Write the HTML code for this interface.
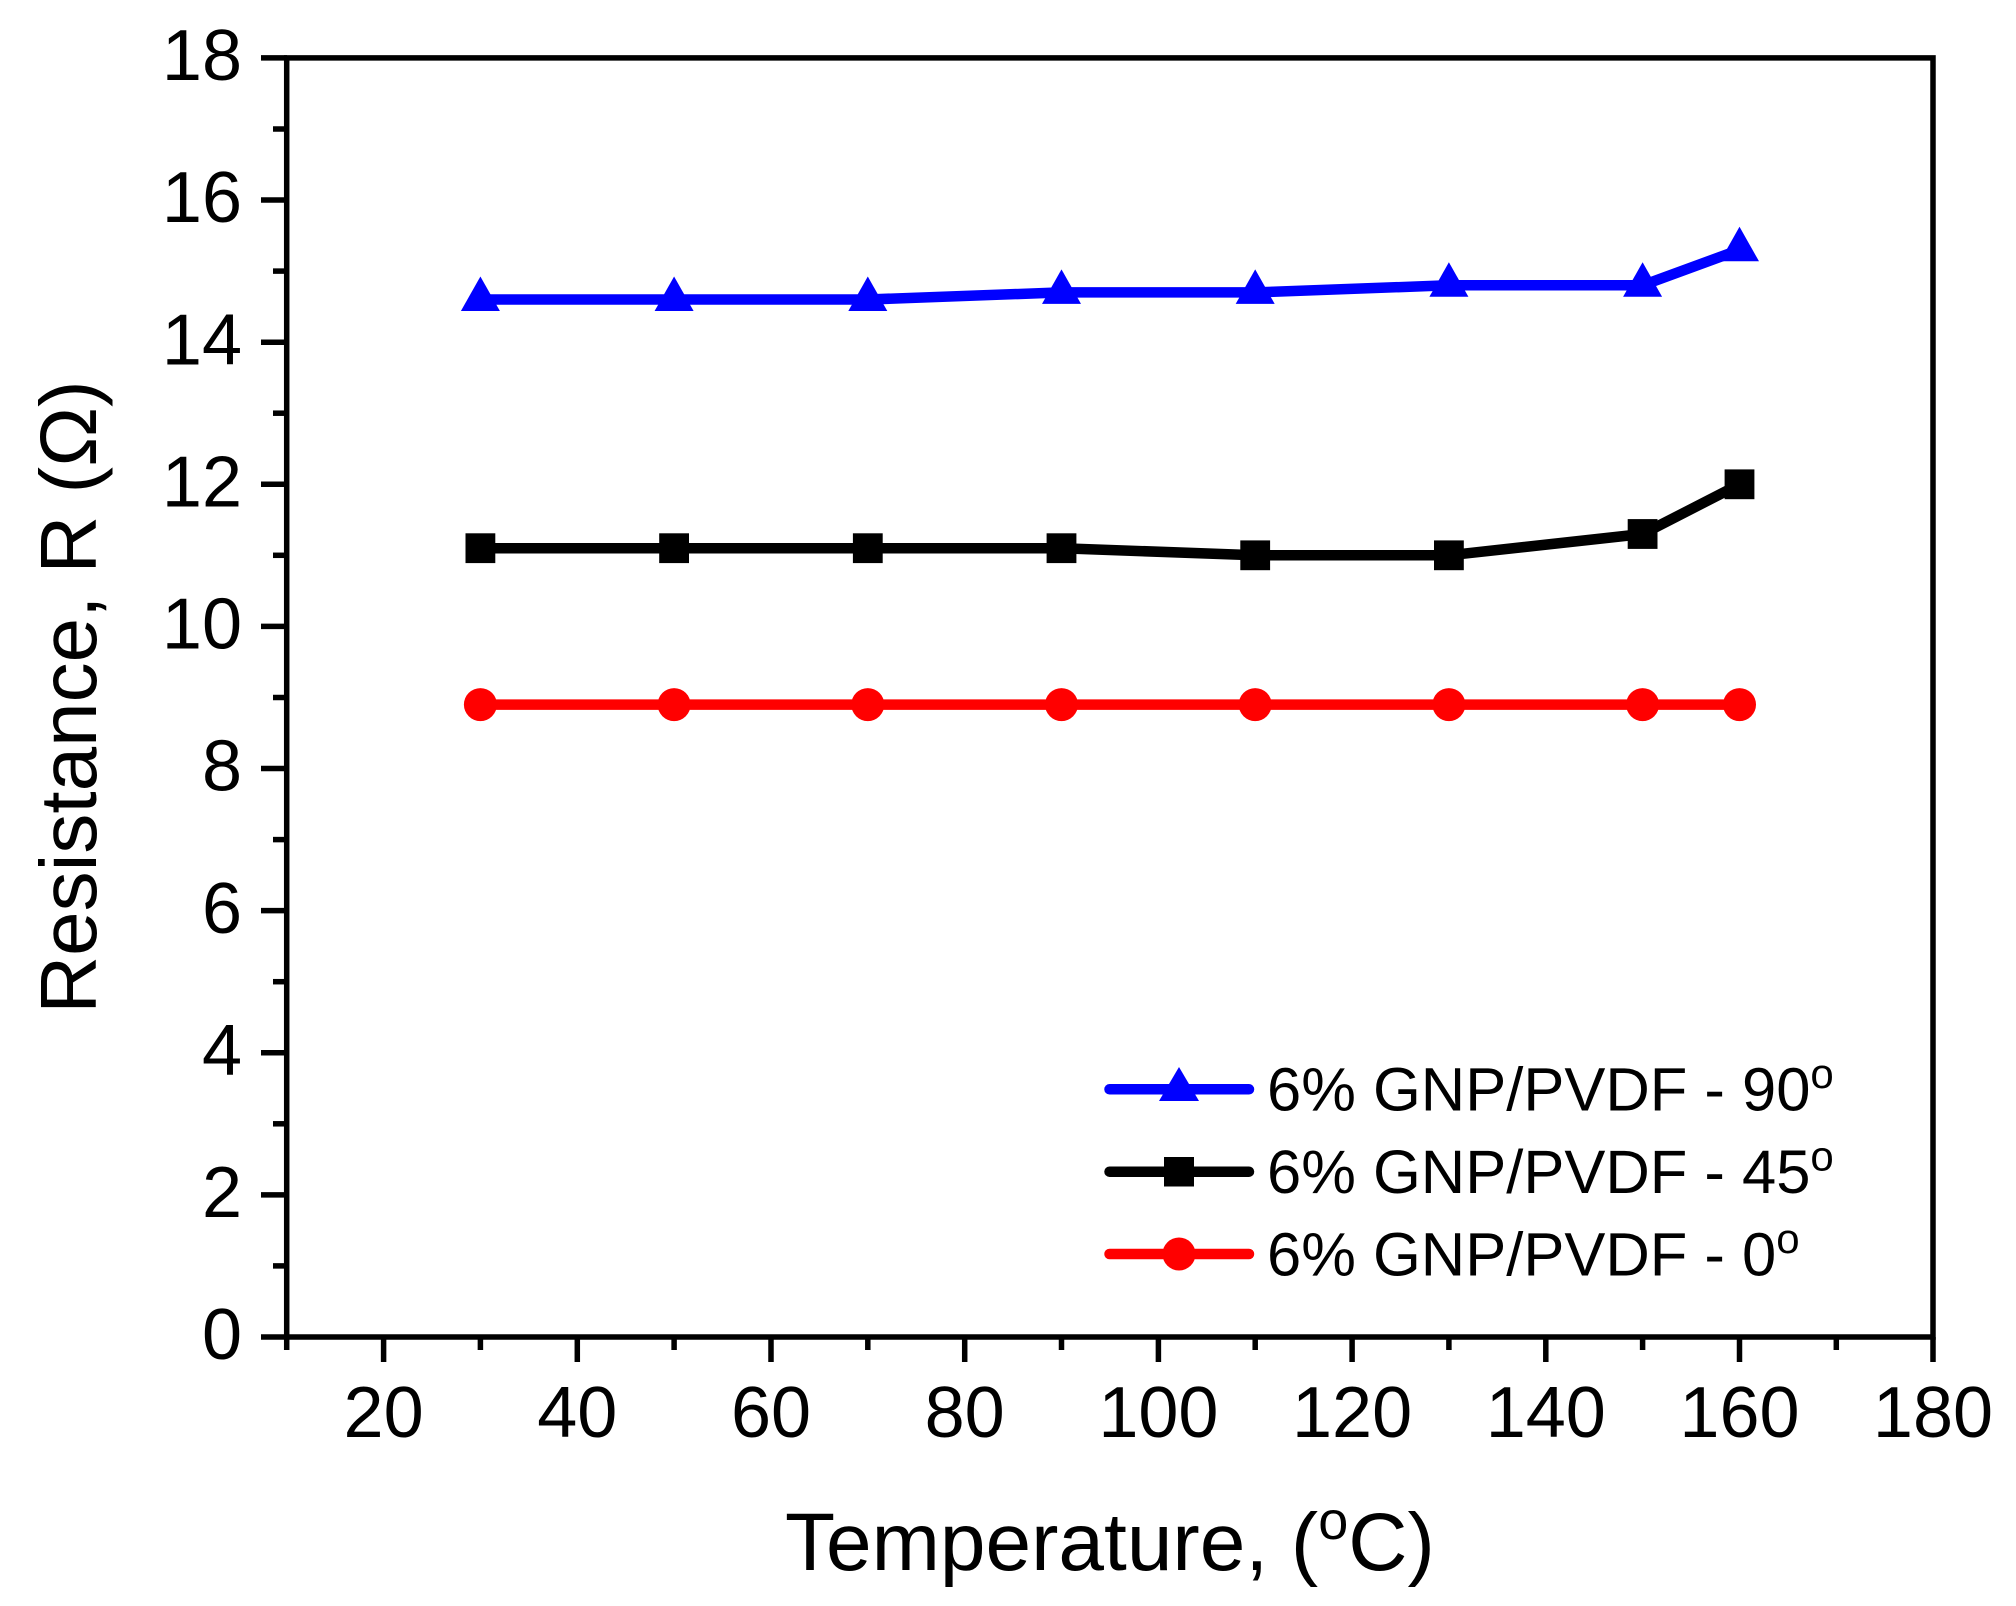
<!DOCTYPE html>
<html>
<head>
<meta charset="utf-8">
<style>
html,body{margin:0;padding:0;background:#fff;}
svg{display:block;}
text{font-family:"Liberation Sans",Arial,sans-serif;fill:#000;}
</style>
</head>
<body>
<svg width="2016" height="1606" viewBox="0 0 2016 1606" xmlns="http://www.w3.org/2000/svg">
<rect x="0" y="0" width="2016" height="1606" fill="#fff"/>

<!-- frame -->
<rect x="286.7" y="57.9" width="1646.3" height="1279.1" fill="none" stroke="#000" stroke-width="5.5" stroke-linejoin="miter"/>

<!-- y ticks -->
<g stroke="#000" stroke-width="5.5">
<line x1="261" y1="1337" x2="287" y2="1337"/>
<line x1="273" y1="1265.9" x2="287" y2="1265.9"/>
<line x1="261" y1="1194.9" x2="287" y2="1194.9"/>
<line x1="273" y1="1123.8" x2="287" y2="1123.8"/>
<line x1="261" y1="1052.8" x2="287" y2="1052.8"/>
<line x1="273" y1="981.7" x2="287" y2="981.7"/>
<line x1="261" y1="910.6" x2="287" y2="910.6"/>
<line x1="273" y1="839.6" x2="287" y2="839.6"/>
<line x1="261" y1="768.5" x2="287" y2="768.5"/>
<line x1="273" y1="697.5" x2="287" y2="697.5"/>
<line x1="261" y1="626.4" x2="287" y2="626.4"/>
<line x1="273" y1="555.3" x2="287" y2="555.3"/>
<line x1="261" y1="484.3" x2="287" y2="484.3"/>
<line x1="273" y1="413.2" x2="287" y2="413.2"/>
<line x1="261" y1="342.2" x2="287" y2="342.2"/>
<line x1="273" y1="271.1" x2="287" y2="271.1"/>
<line x1="261" y1="200.0" x2="287" y2="200.0"/>
<line x1="273" y1="129.0" x2="287" y2="129.0"/>
<line x1="261" y1="57.9" x2="287" y2="57.9"/>
</g>

<!-- x ticks -->
<g stroke="#000" stroke-width="5.5">
<line x1="286.7" y1="1337" x2="286.7" y2="1350"/>
<line x1="383.6" y1="1337" x2="383.6" y2="1362"/>
<line x1="480.4" y1="1337" x2="480.4" y2="1350"/>
<line x1="577.3" y1="1337" x2="577.3" y2="1362"/>
<line x1="674.1" y1="1337" x2="674.1" y2="1350"/>
<line x1="771.0" y1="1337" x2="771.0" y2="1362"/>
<line x1="867.8" y1="1337" x2="867.8" y2="1350"/>
<line x1="964.7" y1="1337" x2="964.7" y2="1362"/>
<line x1="1061.5" y1="1337" x2="1061.5" y2="1350"/>
<line x1="1158.4" y1="1337" x2="1158.4" y2="1362"/>
<line x1="1255.2" y1="1337" x2="1255.2" y2="1350"/>
<line x1="1352.1" y1="1337" x2="1352.1" y2="1362"/>
<line x1="1448.9" y1="1337" x2="1448.9" y2="1350"/>
<line x1="1545.8" y1="1337" x2="1545.8" y2="1362"/>
<line x1="1642.6" y1="1337" x2="1642.6" y2="1350"/>
<line x1="1739.5" y1="1337" x2="1739.5" y2="1362"/>
<line x1="1836.3" y1="1337" x2="1836.3" y2="1350"/>
<line x1="1933" y1="1337" x2="1933" y2="1362"/>
</g>

<!-- y tick labels -->
<g font-size="72" text-anchor="end">
<text x="242" y="1359">0</text>
<text x="242" y="1217">2</text>
<text x="242" y="1075">4</text>
<text x="242" y="933">6</text>
<text x="242" y="790.5">8</text>
<text x="242" y="648.5">10</text>
<text x="242" y="506.5">12</text>
<text x="242" y="364.5">14</text>
<text x="242" y="222">16</text>
<text x="242" y="80">18</text>
</g>

<!-- x tick labels -->
<g font-size="72" text-anchor="middle">
<text x="383.6" y="1437">20</text>
<text x="577.3" y="1437">40</text>
<text x="771.0" y="1437">60</text>
<text x="964.7" y="1437">80</text>
<text x="1158.4" y="1437">100</text>
<text x="1352.1" y="1437">120</text>
<text x="1545.8" y="1437">140</text>
<text x="1739.5" y="1437">160</text>
<text x="1933" y="1437">180</text>
</g>

<!-- axis titles -->
<text x="785" y="1570" font-size="82">Temperature, (<tspan font-size="54" dy="-31">o</tspan><tspan dy="31">C)</tspan></text>
<text transform="translate(96,697) rotate(-90)" font-size="80" text-anchor="middle">Resistance, R (Ω)</text>

<!-- red series 0° -->
<polyline fill="none" stroke="#FF0000" stroke-width="10.5" stroke-linejoin="round"
 points="480.4,704.6 674.1,704.6 867.8,704.6 1061.5,704.6 1255.2,704.6 1448.9,704.6 1642.6,704.6 1739.5,704.6"/>
<g fill="#FF0000">
<circle cx="480.4" cy="704.6" r="16.5"/>
<circle cx="674.1" cy="704.6" r="16.5"/>
<circle cx="867.8" cy="704.6" r="16.5"/>
<circle cx="1061.5" cy="704.6" r="16.5"/>
<circle cx="1255.2" cy="704.6" r="16.5"/>
<circle cx="1448.9" cy="704.6" r="16.5"/>
<circle cx="1642.6" cy="704.6" r="16.5"/>
<circle cx="1739.5" cy="704.6" r="16.5"/>
</g>

<!-- black series 45° -->
<polyline fill="none" stroke="#000" stroke-width="10.5" stroke-linejoin="round"
 points="480.4,548.2 674.1,548.2 867.8,548.2 1061.5,548.2 1255.2,555.3 1448.9,555.3 1642.6,534.0 1739.5,484.3"/>
<g fill="#000">
<rect x="465.5" y="533.3" width="29.8" height="29.8"/>
<rect x="659.2" y="533.3" width="29.8" height="29.8"/>
<rect x="852.9" y="533.3" width="29.8" height="29.8"/>
<rect x="1046.6" y="533.3" width="29.8" height="29.8"/>
<rect x="1240.3" y="540.4" width="29.8" height="29.8"/>
<rect x="1434.0" y="540.4" width="29.8" height="29.8"/>
<rect x="1627.7" y="519.1" width="29.8" height="29.8"/>
<rect x="1724.6" y="469.4" width="29.8" height="29.8"/>
</g>

<!-- blue series 90° -->
<polyline fill="none" stroke="#0000FF" stroke-width="10.5" stroke-linejoin="round"
 points="480.4,299.5 674.1,299.5 867.8,299.5 1061.5,292.4 1255.2,292.4 1448.9,285.3 1642.6,285.3 1739.5,249.8"/>
<g fill="#0000FF">
<path d="M480.4,276.5 L499.9,311 L460.9,311 Z"/>
<path d="M674.1,276.5 L693.6,311 L654.6,311 Z"/>
<path d="M867.8,276.5 L887.3,311 L848.3,311 Z"/>
<path d="M1061.5,269.4 L1081,303.9 L1042,303.9 Z"/>
<path d="M1255.2,269.4 L1274.7,303.9 L1235.7,303.9 Z"/>
<path d="M1448.9,262.3 L1468.4,296.8 L1429.4,296.8 Z"/>
<path d="M1642.6,262.3 L1662.1,296.8 L1623.1,296.8 Z"/>
<path d="M1739.5,226.8 L1759,261.3 L1720,261.3 Z"/>
</g>

<!-- legend -->
<g stroke-width="10.5" stroke-linecap="round">
<line x1="1109.5" y1="1089.3" x2="1249" y2="1089.3" stroke="#0000FF"/>
<line x1="1109.5" y1="1171.7" x2="1249" y2="1171.7" stroke="#000"/>
<line x1="1109.5" y1="1254" x2="1249" y2="1254" stroke="#FF0000"/>
</g>
<path d="M1179,1067 L1199,1101 L1159,1101 Z" fill="#0000FF"/>
<rect x="1164" y="1157" width="30" height="29.5" fill="#000"/>
<circle cx="1179" cy="1254" r="16.5" fill="#FF0000"/>

<g font-size="61.5">
<text x="1267" y="1110.5">6% GNP/PVDF - 90<tspan font-size="42" dy="-22.5">o</tspan></text>
<text x="1267" y="1193">6% GNP/PVDF - 45<tspan font-size="42" dy="-22.5">o</tspan></text>
<text x="1267" y="1275.5">6% GNP/PVDF - 0<tspan font-size="42" dy="-22.5">o</tspan></text>
</g>
</svg>
</body>
</html>
